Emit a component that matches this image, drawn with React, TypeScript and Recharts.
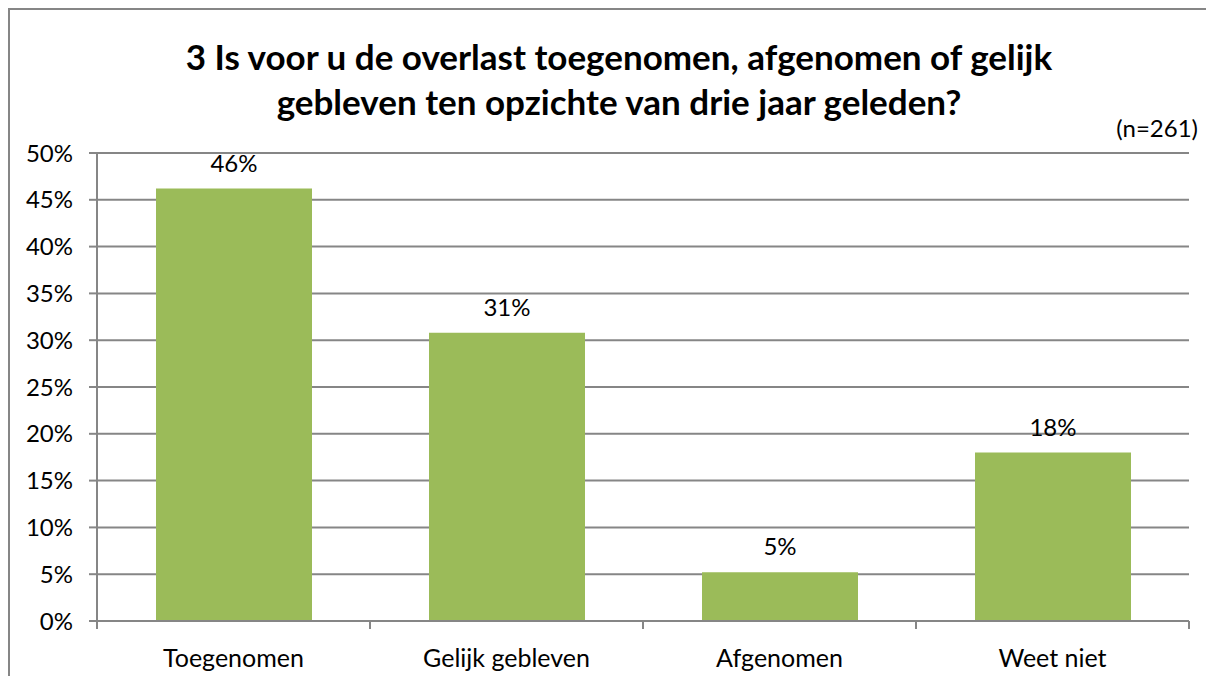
import React from "react";
import { BarChart, Bar, XAxis, YAxis, CartesianGrid, LabelList } from "recharts";

const categories = ["Toegenomen", "Gelijk gebleven", "Afgenomen", "Weet niet"];
const percentages = [46.2, 30.8, 5.2, 18.0];
const yTicks = [0, 5, 10, 15, 20, 25, 30, 35, 40, 45, 50];
const titleLines = [
  "3 Is voor u de overlast toegenomen, afgenomen of gelijk",
  "gebleven ten opzichte van drie jaar geleden?",
];
const sampleNote = "(n=261)";

const data = categories.map((name, i) => ({ name, value: percentages[i] }));

const FONT = "Lato, 'Open Sans', sans-serif";
const GRID = "#868686";

const CategoryTick = (props: any) => {
  const { x, y, payload, index } = props;
  const half = payload.offset || 0;
  const last = index === categories.length - 1;
  return (
    <g>
      <line x1={x - half} x2={x - half} y1={y - 8} y2={y} stroke={GRID} strokeWidth={2} />
      {last && <line x1={x + half} x2={x + half} y1={y - 8} y2={y} stroke={GRID} strokeWidth={2} />}
      <text x={x} y={y + 38} textAnchor="middle" fontSize={25} fontFamily={FONT} fill="#000">
        {payload.value}
      </text>
    </g>
  );
};

export default function App() {
  return (
    <div
      style={{
        position: "relative",
        width: 1206,
        height: 668,
        borderTop: `2px solid ${GRID}`,
        borderLeft: `2px solid ${GRID}`,
        boxSizing: "border-box",
        fontFamily: FONT,
        background: "#fff",
      }}
    >
      <div
        style={{
          position: "absolute",
          left: 10,
          width: 1198,
          top: 24,
          textAlign: "center",
          fontWeight: 700,
          fontSize: 35,
          lineHeight: "45px",
          color: "#000",
        }}
      >
        {titleLines.map((l) => (
          <div key={l}>{l}</div>
        ))}
      </div>
      <div
        style={{
          position: "absolute",
          right: 16,
          top: 103,
          fontSize: 24,
          color: "#000",
        }}
      >
        {sampleNote}
      </div>
      <BarChart
        width={1204}
        height={666}
        data={data}
        margin={{ top: 143, right: 25, bottom: 0, left: 0 }}
      >
        <CartesianGrid vertical={false} stroke={GRID} strokeWidth={2} />
        <XAxis
          dataKey="name"
          axisLine={{ stroke: GRID, strokeWidth: 2 }}
          tickLine={false}
          tickSize={8}
          tickMargin={0}
          height={55}
          interval={0}
          tick={<CategoryTick />}
        />
        <YAxis
          domain={[0, 50]}
          ticks={yTicks}
          interval={0}
          width={87}
          tickFormatter={(v: number) => `${v}%`}
          axisLine={{ stroke: GRID, strokeWidth: 2 }}
          tickLine={{ stroke: GRID, strokeWidth: 2 }}
          tickSize={8}
          tickMargin={16}
          tick={{ fontSize: 24, fontFamily: FONT, fill: "#000" }}
        />
        <Bar dataKey="value" fill="#9BBB59" barSize={156} isAnimationActive={false}>
          <LabelList
            dataKey="value"
            position="top"
            offset={17}
            formatter={(v: any) => `${Math.round(Number(v))}%`}
            style={{ fontSize: 24, fontFamily: FONT, fill: "#000" }}
          />
        </Bar>
      </BarChart>
    </div>
  );
}
